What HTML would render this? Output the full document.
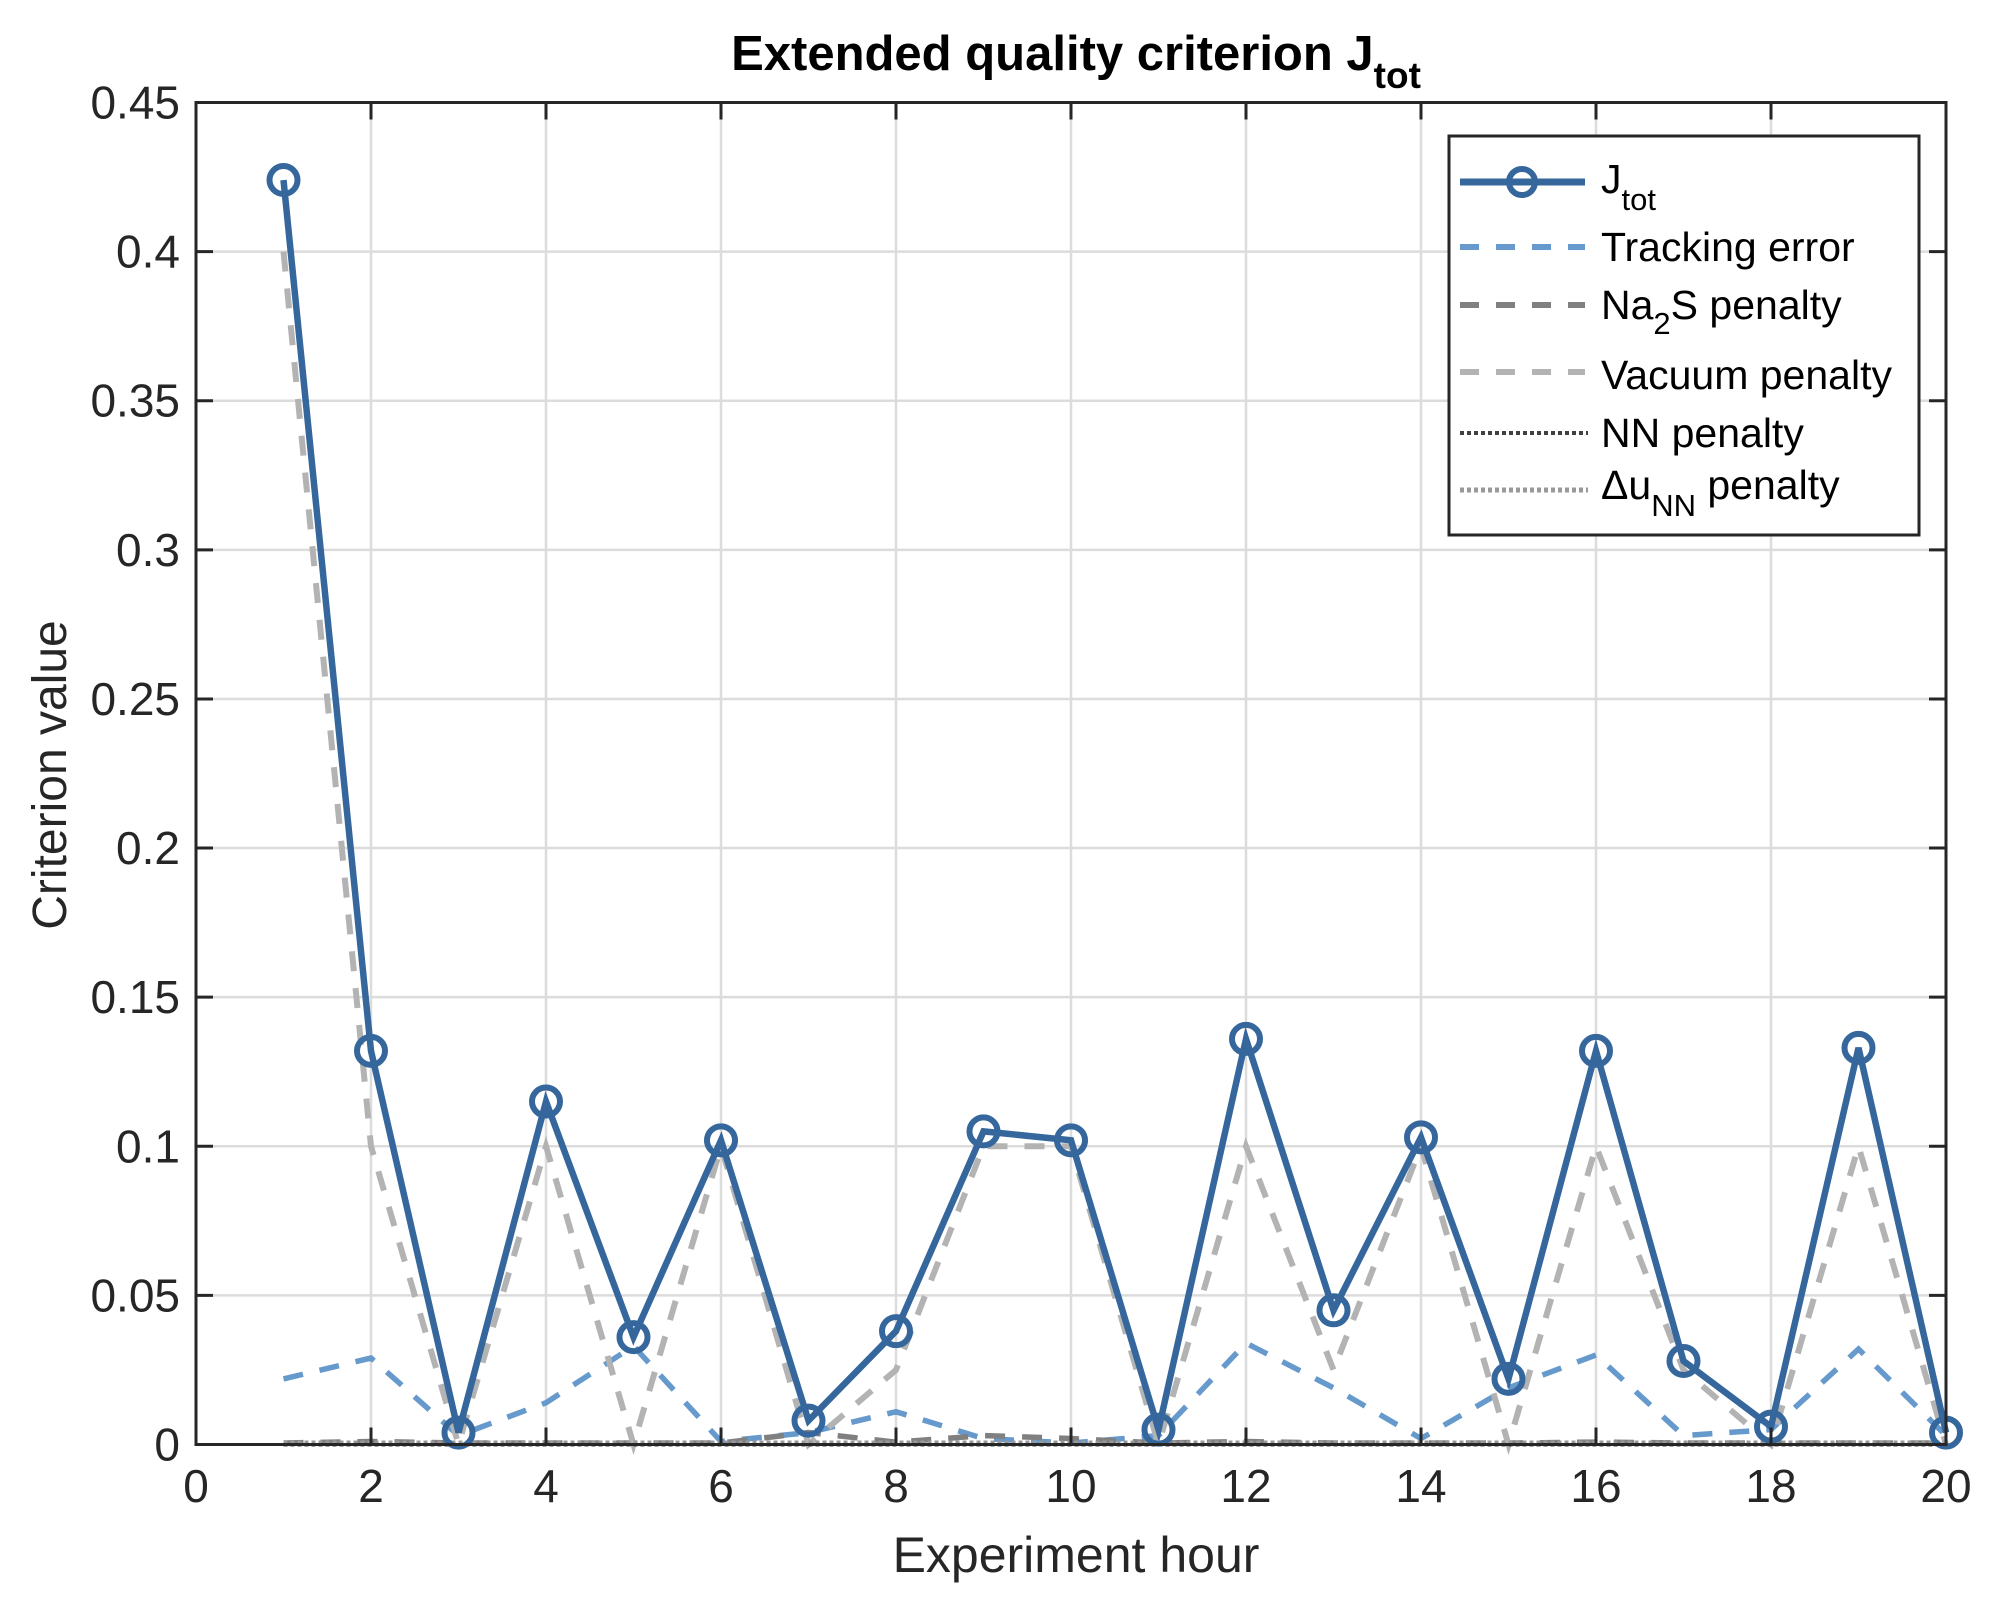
<!DOCTYPE html>
<html><head><meta charset="utf-8"><style>
html,body{margin:0;padding:0;background:#fff}
svg{display:block;font-family:"Liberation Sans",Arial,sans-serif}
</style></head><body>
<svg id="chart" width="1998" height="1600" viewBox="0 0 1998 1600" xmlns="http://www.w3.org/2000/svg">
<rect width="1998" height="1600" fill="#fff"/>
<text x="1076" y="70" text-anchor="middle" font-size="49" font-weight="bold" fill="#000">Extended quality criterion J<tspan font-size="37" dy="18">tot</tspan></text>
<g id="grid"></g>
<g id="series"></g>
<rect x="196" y="102.5" width="1750" height="1342" fill="none" stroke="#262626" stroke-width="3"/>
<g id="ticks"></g>
<text x="1076" y="1572" text-anchor="middle" font-size="50" fill="#262626">Experiment hour</text>
<text transform="translate(66,775) rotate(-90)" text-anchor="middle" font-size="48" fill="#262626">Criterion value</text>
<g>
<rect x="1449" y="136" width="470" height="399" fill="#fff" stroke="#262626" stroke-width="3"/>
<line x1="1460" y1="182" x2="1585" y2="182" stroke="#35679d" stroke-width="7"/>
<circle cx="1522" cy="182" r="13" fill="none" stroke="#35679d" stroke-width="6"/>
<text x="1601" y="193" font-size="41" fill="#000">J<tspan font-size="31" dy="17">tot</tspan></text>
<line x1="1460" y1="247" x2="1585" y2="247" stroke="#6699cc" stroke-width="6" stroke-dasharray="19 17"/>
<text x="1601" y="261" font-size="41" fill="#000">Tracking error</text>
<line x1="1460" y1="305" x2="1585" y2="305" stroke="#808080" stroke-width="6" stroke-dasharray="19 17"/>
<text x="1601" y="319" font-size="41" fill="#000">Na<tspan font-size="31" dy="15">2</tspan><tspan dy="-15">S penalty</tspan></text>
<line x1="1460" y1="372" x2="1585" y2="372" stroke="#b3b3b3" stroke-width="6" stroke-dasharray="19 17"/>
<text x="1601" y="389" font-size="41" fill="#000">Vacuum penalty</text>
<line x1="1460" y1="433" x2="1588" y2="433" stroke="#404040" stroke-width="4" stroke-dasharray="4 3"/>
<text x="1601" y="447" font-size="41" fill="#000">NN penalty</text>
<line x1="1460" y1="490" x2="1588" y2="490" stroke="#999999" stroke-width="5" stroke-dasharray="4 3"/>
<text x="1601" y="499" font-size="41" fill="#000">Δu<tspan font-size="31" dy="17">NN</tspan><tspan dy="-17"> penalty</tspan></text>
</g>
</svg>
<script>
const hours = [1,2,3,4,5,6,7,8,9,10,11,12,13,14,15,16,17,18,19,20];
const jtot = [0.424,0.132,0.004,0.115,0.036,0.102,0.008,0.038,0.105,0.102,0.005,0.136,0.045,0.103,0.022,0.132,0.028,0.006,0.133,0.004];
const tracking = [0.022,0.029,0.003,0.014,0.033,0.001,0.004,0.011,0.002,0.0005,0.003,0.034,0.019,0.002,0.019,0.030,0.003,0.005,0.032,0.003];
const na2s = [0.0005,0.001,0.0005,0.0005,0.0005,0.0005,0.004,0.0008,0.003,0.002,0.0005,0.001,0.0005,0.0005,0.0005,0.0008,0.0005,0.0005,0.0005,0.0005];
const vacuum = [0.400,0.100,0,0.100,0,0.100,0,0.025,0.100,0.100,0,0.100,0.025,0.100,0,0.100,0.025,0,0.100,0];
const nn = [0,0,0,0,0,0,0,0,0,0,0,0,0,0,0,0,0,0,0,0];
const du = [0.0005,0.0005,0.0005,0.0005,0.0005,0.0005,0.0005,0.0005,0.0005,0.0005,0.0005,0.0005,0.0005,0.0005,0.0005,0.0005,0.0005,0.0005,0.0005,0.0005];
const xTicks = [0,2,4,6,8,10,12,14,16,18,20];
const yTicks = [0,0.05,0.1,0.15,0.2,0.25,0.3,0.35,0.4,0.45];
const yTickLabels = ["0","0.05","0.1","0.15","0.2","0.25","0.3","0.35","0.4","0.45"];

const NS="http://www.w3.org/2000/svg";
const L=196,R=1946,T=102.5,B=1444.5;
const xs=v=>L+(v-0)/(20-0)*(R-L);
const ys=v=>B-(v-0)/(0.45-0)*(B-T);
function mk(tag,attrs,parent){const e=document.createElementNS(NS,tag);for(const k in attrs)e.setAttribute(k,attrs[k]);parent.appendChild(e);return e;}
const grid=document.getElementById('grid'),ticks=document.getElementById('ticks'),series=document.getElementById('series');
xTicks.forEach(t=>{
  const g=mk('line',{x1:xs(t),x2:xs(t),y1:T,y2:B,stroke:'#dcdcdc','stroke-width':2.5},grid);
  
  
  mk('line',{x1:xs(t),x2:xs(t),y1:B,y2:B-17,stroke:'#262626','stroke-width':3},ticks);
  mk('line',{x1:xs(t),x2:xs(t),y1:T,y2:T+17,stroke:'#262626','stroke-width':3},ticks);
  const tx=mk('text',{x:xs(t),y:1502,'text-anchor':'middle','font-size':46,fill:'#262626'},ticks);
  tx.textContent=t;
  
  
});
yTicks.forEach((t,i)=>{
  const g=mk('line',{x1:L,x2:R,y1:ys(t),y2:ys(t),stroke:'#dcdcdc','stroke-width':2.5},grid);
  
  
  mk('line',{x1:L,x2:L+17,y1:ys(t),y2:ys(t),stroke:'#262626','stroke-width':3},ticks);
  mk('line',{x1:R,x2:R-17,y1:ys(t),y2:ys(t),stroke:'#262626','stroke-width':3},ticks);
  const tx=mk('text',{x:180,y:ys(t)+16,'text-anchor':'end','font-size':46,fill:'#262626'},ticks);
  tx.textContent=yTickLabels[i];
  
  
});
function line(vals,style,name){
  const pts=hours.map((h,i)=>xs(h)+','+ys(vals[i])).join(' ');
  const p=mk('polyline',Object.assign({points:pts,fill:'none'},style),series);
  
  
}
line(tracking,{stroke:'#6699cc','stroke-width':5.5,'stroke-dasharray':'20 17'},'tracking-error-line');
line(na2s,{stroke:'#808080','stroke-width':5.5,'stroke-dasharray':'20 17'},'na2s-penalty-line');
line(vacuum,{stroke:'#b3b3b3','stroke-width':6,'stroke-dasharray':'20 17'},'vacuum-penalty-line');
line(nn,{stroke:'#404040','stroke-width':4,'stroke-dasharray':'4 3'},'nn-penalty-line');
line(du,{stroke:'#999999','stroke-width':5,'stroke-dasharray':'4 3'},'du-nn-penalty-line');
line(jtot,{stroke:'#35679d','stroke-width':6.5},'jtot-line');
hours.forEach((h,i)=>{
  const c=mk('circle',{cx:xs(h),cy:ys(jtot[i]),r:14,fill:'none',stroke:'#35679d','stroke-width':6},series);
  
  
});
</script>
</body></html>
